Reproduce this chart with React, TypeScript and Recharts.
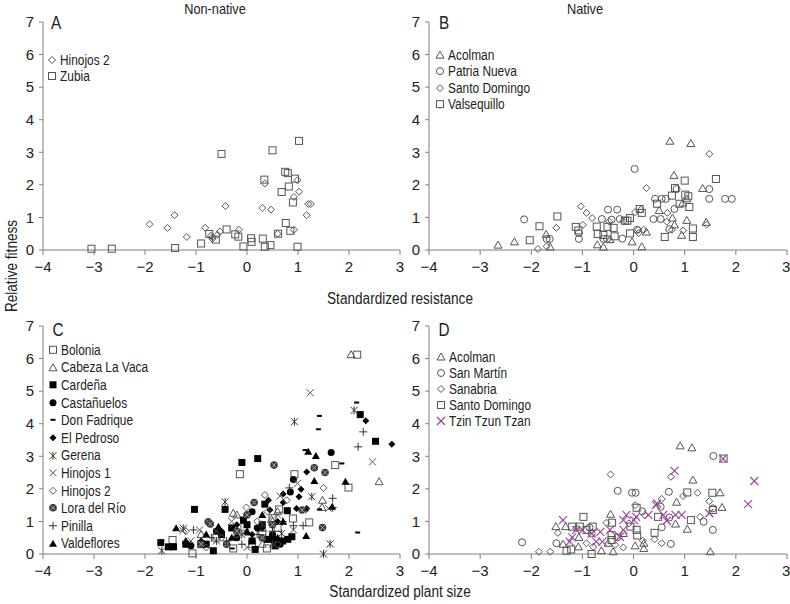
import { ScatterChart, Scatter, XAxis, YAxis } from "recharts";

type Pt = [number, number];
type Kind =
  | "sqO" | "triO" | "cirO" | "diaO"
  | "sqF" | "triF" | "cirF" | "diaF"
  | "dash" | "star" | "cross" | "plus" | "hatch" | "crossP";

// ---- axes
const xTicks = [-4, -3, -2, -1, 0, 1, 2, 3];
const yTicks = [0, 1, 2, 3, 4, 5, 6, 7];

// ---- A: non-native, resistance
const aHinojos2: Pt[] = [
  [-1.91, 0.79], [-1.56, 0.68], [-1.42, 1.07], [-1.18, 0.4], [-0.82, 0.68],
  [-0.71, 0.44], [-0.68, 0.34], [-0.58, 0.47], [-0.53, 0.57], [-0.42, 1.35],
  [-0.16, 0.62], [0.3, 1.29], [0.35, 2.04], [0.47, 1.24], [0.6, 0.5],
  [0.92, 1.63], [0.92, 0.62], [0.99, 2.14], [1.02, 1.79], [1.17, 1.07],
  [1.2, 1.41], [1.25, 1.41], [-0.68, 0.4],
];
const aZubia: Pt[] = [
  [-3.05, 0.04], [-2.65, 0.04], [-1.41, 0.06], [-0.9, 0.2], [-0.74, 0.49],
  [-0.61, 0.32], [-0.5, 2.95], [-0.4, 0.63], [-0.23, 0.48], [-0.17, 0.41],
  [-0.07, 0.11], [0.08, 0.36], [0.09, 0.25], [0.31, 0.35], [0.34, 2.16],
  [0.35, 0.1], [0.46, 0.15], [0.5, 3.06], [0.61, 0.5], [0.68, 1.78],
  [0.75, 2.4], [0.8, 2.36], [0.76, 0.83], [0.82, 1.95], [0.85, 0.59],
  [0.9, 1.46], [0.94, 2.19], [0.99, 0.1], [1.02, 3.35],
];

// ---- B: native, resistance
const bAcolman: Pt[] = [
  [-2.65, 0.15], [-2.33, 0.25], [-1.71, 0.48], [-1.63, 0.09], [-0.71, 0.16],
  [-0.59, 0.09], [-0.46, 0.32], [-0.03, 0.25], [0.16, 0.1], [0.25, 0.55],
  [0.5, 1.21], [0.71, 3.34], [0.79, 2.29], [0.8, 0.77], [0.94, 0.45],
  [0.96, 1.44], [1.04, 0.91], [1.12, 3.27], [1.35, 1.89], [1.42, 0.85],
  [0.76, 0.98], [1.04, 1.57],
];
const bPatriaNueva: Pt[] = [
  [-2.14, 0.94], [-1.7, 0.34], [-1.64, 0.34], [-1.07, 0.34], [-1.07, 0.52],
  [-0.62, 0.95], [-0.5, 1.24], [-0.43, 0.93], [-0.32, 1.24], [-0.27, 0.95],
  [-0.22, 0.35], [0.02, 2.49], [0.07, 0.62], [0.39, 0.95], [0.42, 1.57],
  [0.53, 0.95], [0.55, 1.57], [0.63, 1.57], [0.7, 0.64], [0.8, 1.26],
  [0.84, 1.87], [1.48, 1.87], [1.48, 1.57], [1.79, 1.57], [1.92, 1.57],
  [-0.59, 0.34], [-0.52, 0.34],
];
const bSantoDomingo: Pt[] = [
  [-1.87, 0.03], [-1.7, 0.11], [-1.51, 0.68], [-1.03, 1.34], [-0.99, 0.77],
  [-0.92, 1.14], [-0.81, 0.98], [-0.48, 0.88], [-0.2, 0.88], [0.03, 1.16],
  [0.09, 0.62], [0.1, 0.52], [0.14, 1.24], [0.25, 1.9], [0.2, 0.62],
  [0.65, 0.87], [0.66, 1.14], [0.75, 0.62], [0.97, 0.6], [1.48, 2.95],
  [1.43, 0.78],
];
const bValsequillo: Pt[] = [
  [-2.03, 0.3], [-1.84, 0.73], [-1.49, 1.03], [-1.13, 0.71], [-1.08, 0.6],
  [-0.72, 0.72], [-0.7, 0.49], [-0.59, 0.46], [-0.51, 0.71], [-0.39, 0.68],
  [-0.37, 0.42], [-0.17, 0.9], [-0.12, 0.9], [-0.07, 0.51], [0.12, 1.26],
  [0.16, 1.14], [0.46, 1.42], [0.61, 0.4], [0.75, 1.67], [0.81, 1.9],
  [0.9, 1.42], [1.0, 2.13], [1.01, 1.7], [1.07, 1.65], [1.09, 1.32],
  [1.16, 0.66], [1.16, 0.4], [1.61, 2.18], [-0.07, 0.98],
];

// ---- C: non-native, plant size
const cBolonia: Pt[] = [
  [2.16, 6.12], [-0.14, 2.45], [0.93, 2.45], [1.73, 2.73], [1.99, 2.04],
  [1.22, 0.97], [0.9, 1.09], [0.63, 1.37], [0.5, 1.1], [-1.07, 0.02],
  [-1.46, 0.43], [-0.27, 0.17], [0.39, 0.17], [-0.05, 0.84], [-0.6, 0.5],
  [0.1, 0.3], [-0.9, 0.3], [0.3, 0.6], [0.6, 0.8],
];
const cCabeza: Pt[] = [
  [2.04, 6.12], [2.59, 2.22], [1.48, 1.65], [1.47, 1.43], [0.48, 1.06],
  [-0.27, 1.25], [-0.2, 1.2], [0.5, 1.0], [0.3, 0.8], [-0.9, 0.6],
  [0.6, 1.3], [0.3, 0.3],
];
const cCardena: Pt[] = [
  [-0.1, 2.81], [0.21, 2.93], [-1.03, 1.37], [-1.69, 0.35], [-1.54, 0.22],
  [-1.44, 0.22], [-0.43, 1.37], [0.35, 1.53], [0.79, 1.33], [0.88, 0.53],
  [2.22, 4.28], [2.52, 3.46], [-0.66, 0.1], [0.16, 0.14], [-0.07, 1.04],
  [0.6, 0.4], [0.7, 0.4], [0.8, 0.45], [0.5, 0.45], [0.4, 0.45],
  [0.1, 0.4], [-0.3, 0.8], [-0.5, 0.6], [-0.8, 0.3], [-1.2, 0.3],
  [0.0, 0.9], [0.3, 0.9], [0.55, 0.25],
];
const cCastanuelos: Pt[] = [
  [1.65, 3.12], [0.91, 2.29], [-0.6, 0.7], [0.2, 0.8], [0.5, 0.6],
  [-0.2, 0.5], [0.65, 0.3], [-1.1, 0.25], [0.1, 1.3], [0.85, 1.9],
];
const cDonFadrique: Pt[] = [
  [2.15, 4.65], [1.42, 4.24], [1.4, 3.83], [1.14, 3.19], [1.86, 2.78],
  [2.17, 0.66], [1.42, 1.37], [-0.29, 0.17], [0.0, 0.6],
];
const cElPedroso: Pt[] = [
  [2.33, 4.09], [2.84, 3.37], [1.17, 2.52], [1.06, 1.99], [1.02, 1.76],
  [0.71, 1.84], [0.71, 1.58], [0.45, 1.35], [0.42, 1.65], [0.97, 1.4],
  [1.17, 1.4], [-0.5, 0.7], [0.1, 0.6], [-0.2, 0.9], [0.3, 0.8],
  [0.6, 1.0], [-0.9, 0.4],
];
const cGerena: Pt[] = [
  [2.1, 4.41], [0.93, 4.06], [1.27, 1.76], [1.5, 0.0], [1.63, 0.31],
  [-0.43, 1.6], [-1.67, 0.1], [-1.25, 0.79], [0.68, 0.63], [-0.1, 0.6],
  [0.3, 0.9], [-0.6, 0.4], [0.5, 0.3],
];
const cHinojos1: Pt[] = [
  [1.24, 4.95], [2.46, 2.83], [0.99, 2.17], [-1.26, 0.72], [-0.93, 0.74],
  [0.65, 1.78], [0.91, 0.74], [-0.3, 1.0], [0.3, 0.5], [-0.6, 0.7],
  [0.0, 0.2], [0.6, 1.2], [-1.1, 0.4], [1.6, 1.4],
];
const cHinojos2: Pt[] = [
  [1.5, 2.03], [0.35, 1.81], [-0.01, 1.43], [0.78, 1.65], [-1.2, 0.7],
  [-0.5, 0.5], [0.2, 1.0], [0.4, 1.3], [-0.2, 0.6], [0.6, 0.3],
  [-0.8, 0.2], [1.15, 1.35],
];
const cLora: Pt[] = [
  [0.53, 2.73], [1.32, 2.65], [1.53, 2.5], [1.48, 0.81], [1.08, 1.35],
  [0.14, 1.58], [-0.76, 0.99], [-0.72, 0.92], [-0.4, 0.3], [0.0, 1.2],
  [-0.9, 0.3], [0.3, 0.5], [-0.2, 0.7], [0.5, 0.9],
];
const cPinilla: Pt[] = [
  [2.28, 3.75], [2.18, 3.29], [1.68, 1.71], [1.68, 1.43], [0.83, 2.03],
  [1.1, 0.87], [0.91, 0.87], [-1.05, 0.74], [-0.4, 0.4], [0.2, 0.6],
  [0.5, 0.7], [-0.1, 0.3], [-0.7, 0.5], [0.7, 1.0],
];
const cValdeflores: Pt[] = [
  [1.2, 3.14], [1.35, 3.01], [1.32, 2.24], [1.93, 2.22], [1.67, 1.45],
  [1.16, 0.55], [0.71, 0.99], [-1.39, 0.79], [-0.56, 0.84], [-1.2, 0.4],
  [-0.8, 0.6], [0.0, 0.7], [0.3, 1.2], [-0.3, 0.5], [0.6, 0.5],
];

// ---- D: native, plant size
const dAcolman: Pt[] = [
  [0.91, 3.32], [1.14, 3.26], [1.16, 2.27], [0.84, 1.59], [0.82, 0.92],
  [1.05, 0.76], [1.69, 1.88], [1.73, 1.43], [1.5, 0.07], [-0.45, 1.22],
  [-0.4, 0.07], [-1.52, 0.84], [-1.33, 0.84], [-1.38, 0.3], [-1.07, 0.51],
  [-1.08, 0.22], [0.03, 0.25], [0.2, 0.17], [0.2, 0.33], [-0.5, 0.33],
  [-0.63, 0.1], [-0.2, 0.63],
];
const dSanMartin: Pt[] = [
  [-2.18, 0.36], [-1.51, 0.33], [-0.31, 1.94], [-0.03, 1.88], [0.04, 1.88],
  [0.17, 1.31], [0.69, 1.91], [0.53, 1.45], [0.7, 1.12], [0.73, 0.31],
  [1.56, 3.01], [1.55, 0.74], [1.37, 0.99], [1.55, 1.4], [0.55, 0.82],
  [-0.32, 0.51], [-0.82, 0.63], [-0.86, 0.81],
];
const dSanabria: Pt[] = [
  [-1.85, 0.07], [-1.63, 0.07], [-1.48, 0.65], [-0.45, 2.44], [-0.53, 0.96],
  [-0.2, 0.2], [-0.36, 0.28], [0.03, 1.5], [0.22, 1.19], [0.18, 0.41],
  [0.41, 0.45], [0.55, 1.69], [0.55, 0.33], [0.73, 2.37], [0.97, 1.78],
  [1.25, 1.88], [1.3, 1.14], [1.48, 1.62], [-0.09, 0.94], [-0.92, 0.33],
  [-0.79, 0.22], [-1.12, 0.79],
];
const dSantoDomingo: Pt[] = [
  [1.76, 2.93], [1.05, 1.89], [1.54, 1.88], [1.55, 1.35], [1.12, 1.04],
  [0.41, 0.65], [0.48, 1.14], [0.06, 1.42], [0.06, 0.74], [0.07, 0.57],
  [-0.06, 0.84], [-0.42, 0.96], [-0.43, 0.58], [-0.43, 0.43], [-0.8, 0.84],
  [-0.82, 0.0], [-0.98, 1.14], [-1.05, 0.84], [-1.2, 0.84], [-0.92, 0.74],
  [-1.31, 0.1], [-1.22, 0.14],
];
const dTzin: Pt[] = [
  [-1.38, 1.04], [-1.25, 0.38], [-1.2, 0.51], [-1.12, 0.74], [-1.0, 0.74],
  [-0.82, 0.63], [-0.73, 0.38], [-0.65, 0.68], [-0.61, 0.38], [-0.46, 0.74],
  [-0.2, 0.74], [-0.14, 1.2], [-0.2, 1.04], [0.01, 1.04], [0.05, 1.14],
  [0.29, 1.2], [0.46, 1.55], [0.58, 1.2], [0.65, 1.02], [0.8, 2.55],
  [0.82, 1.2], [0.94, 1.2], [1.48, 1.25], [1.75, 2.93], [2.24, 1.53],
  [2.36, 2.24], [0.44, 1.5], [-0.27, 0.53],
];

type Series = { name: string; kind: Kind; pts: Pt[] };

const panelA: Series[] = [
  { name: "Hinojos 2", kind: "diaO", pts: aHinojos2 },
  { name: "Zubia", kind: "sqO", pts: aZubia },
];
const panelB: Series[] = [
  { name: "Acolman", kind: "triO", pts: bAcolman },
  { name: "Patria Nueva", kind: "cirO", pts: bPatriaNueva },
  { name: "Santo Domingo", kind: "diaO", pts: bSantoDomingo },
  { name: "Valsequillo", kind: "sqO", pts: bValsequillo },
];
const panelC: Series[] = [
  { name: "Bolonia", kind: "sqO", pts: cBolonia },
  { name: "Cabeza La Vaca", kind: "triO", pts: cCabeza },
  { name: "Cardeña", kind: "sqF", pts: cCardena },
  { name: "Castañuelos", kind: "cirF", pts: cCastanuelos },
  { name: "Don Fadrique", kind: "dash", pts: cDonFadrique },
  { name: "El Pedroso", kind: "diaF", pts: cElPedroso },
  { name: "Gerena", kind: "star", pts: cGerena },
  { name: "Hinojos 1", kind: "cross", pts: cHinojos1 },
  { name: "Hinojos 2", kind: "diaO", pts: cHinojos2 },
  { name: "Lora del Río", kind: "hatch", pts: cLora },
  { name: "Pinilla", kind: "plus", pts: cPinilla },
  { name: "Valdeflores", kind: "triF", pts: cValdeflores },
];
const panelD: Series[] = [
  { name: "Acolman", kind: "triO", pts: dAcolman },
  { name: "San Martín", kind: "cirO", pts: dSanMartin },
  { name: "Sanabria", kind: "diaO", pts: dSanabria },
  { name: "Santo Domingo", kind: "sqO", pts: dSantoDomingo },
  { name: "Tzin Tzun Tzan", kind: "crossP", pts: dTzin },
];

const FONT = "'Liberation Sans Narrow', 'Arial Narrow', 'Liberation Sans', Arial, sans-serif";
const GRAY = "#555";
const AXIS = "#808080";
const PURPLE = "#9a4a9a";
const SQUEEZE = 0.85; // no narrow font installed, so texts get squeezed a bit

function marker(kind: Kind, cx: number, cy: number) {
  const r = 3.5;
  switch (kind) {
    case "sqO":
      return <rect x={cx - r} y={cy - r} width={2 * r} height={2 * r} fill="none" stroke={GRAY} strokeWidth={1} />;
    case "sqF":
      return <rect x={cx - 3.5} y={cy - 3.5} width={7} height={7} fill="#000" />;
    case "triO":
      return <polygon points={`${cx},${cy - 4} ${cx + 4},${cy + 3} ${cx - 4},${cy + 3}`} fill="none" stroke={GRAY} strokeWidth={1} />;
    case "triF":
      return <polygon points={`${cx},${cy - 4} ${cx + 4},${cy + 3} ${cx - 4},${cy + 3}`} fill="#000" />;
    case "cirO":
      return <circle cx={cx} cy={cy} r={r} fill="none" stroke={GRAY} strokeWidth={1} />;
    case "cirF":
      return <circle cx={cx} cy={cy} r={r} fill="#000" />;
    case "diaO":
      return <polygon points={`${cx},${cy - 3.5} ${cx + 3.5},${cy} ${cx},${cy + 3.5} ${cx - 3.5},${cy}`} fill="none" stroke={GRAY} strokeWidth={1} />;
    case "diaF":
      return <polygon points={`${cx},${cy - 3.5} ${cx + 3.5},${cy} ${cx},${cy + 3.5} ${cx - 3.5},${cy}`} fill="#000" />;
    case "dash":
      return <line x1={cx - 2.5} y1={cy} x2={cx + 2.5} y2={cy} stroke="#000" strokeWidth={2} />;
    case "star":
      return (
        <g stroke="#333" strokeWidth={1}>
          <line x1={cx - 3.5} y1={cy - 3.5} x2={cx + 3.5} y2={cy + 3.5} />
          <line x1={cx - 3.5} y1={cy + 3.5} x2={cx + 3.5} y2={cy - 3.5} />
          <line x1={cx} y1={cy - 4} x2={cx} y2={cy + 4} />
        </g>
      );
    case "cross":
      return (
        <g stroke={GRAY} strokeWidth={1}>
          <line x1={cx - 3.5} y1={cy - 3.5} x2={cx + 3.5} y2={cy + 3.5} />
          <line x1={cx - 3.5} y1={cy + 3.5} x2={cx + 3.5} y2={cy - 3.5} />
        </g>
      );
    case "crossP":
      return (
        <g stroke={PURPLE} strokeWidth={1.2}>
          <line x1={cx - 4} y1={cy - 4} x2={cx + 4} y2={cy + 4} />
          <line x1={cx - 4} y1={cy + 4} x2={cx + 4} y2={cy - 4} />
        </g>
      );
    case "plus":
      return (
        <g stroke="#333" strokeWidth={1}>
          <line x1={cx - 4} y1={cy} x2={cx + 4} y2={cy} />
          <line x1={cx} y1={cy - 4} x2={cx} y2={cy + 4} />
        </g>
      );
    case "hatch":
      return (
        <g>
          <circle cx={cx} cy={cy} r={3.8} fill="#3a3a3a" />
          <g stroke="#bbb" strokeWidth={0.8}>
            <line x1={cx - 2.4} y1={cy - 2.4} x2={cx + 2.4} y2={cy + 2.4} />
            <line x1={cx - 2.4} y1={cy + 2.4} x2={cx + 2.4} y2={cy - 2.4} />
          </g>
        </g>
      );
  }
}

const fmt = (v: number) => (v < 0 ? `\u2212${-v}` : `${v}`);

function Panel({ left, top, width, rightMargin, series }: { left: number; top: number; width: number; rightMargin: number; series: Series[] }) {
  return (
    <div style={{ position: "absolute", left, top }}>
      <ScatterChart width={width} height={290} margin={{ top: 22, right: rightMargin, left: 0, bottom: 10 }}>
        <XAxis
          type="number"
          dataKey="x"
          domain={[-4, 3]}
          ticks={xTicks}
          height={30}
          tickFormatter={fmt}
          tickSize={5}
          tickMargin={6}
          stroke={AXIS}
          tick={{ fill: "#222", fontSize: 15, fontFamily: FONT }}
        />
        <YAxis
          type="number"
          dataKey="y"
          domain={[0, 7]}
          ticks={yTicks}
          width={43}
          tickSize={4}
          tickMargin={5}
          stroke={AXIS}
          tick={{ fill: "#222", fontSize: 15, fontFamily: FONT }}
        />
        {series.map((s) => (
          <Scatter
            key={s.name}
            name={s.name}
            data={s.pts.map(([x, y]) => ({ x, y }))}
            isAnimationActive={false}
            shape={(p: any) => marker(s.kind, p.cx, p.cy)}
          />
        ))}
      </ScatterChart>
    </div>
  );
}

function LegendBox({ left, top, rowH, series }: { left: number; top: number; rowH: number; series: Series[] }) {
  return (
    <div style={{ position: "absolute", left, top, fontFamily: FONT, fontSize: 14, color: "#222" }}>
      {series.map((s) => (
        <div key={s.name} style={{ height: rowH, display: "flex", alignItems: "center", whiteSpace: "nowrap" }}>
          <svg width={11} height={rowH} style={{ marginRight: 2, flex: "none" }}>
            {marker(s.kind, 5, rowH / 2)}
          </svg>
          <span style={{ display: "inline-block", transform: `scaleX(${SQUEEZE})`, transformOrigin: "left center" }}>{s.name}</span>
        </div>
      ))}
    </div>
  );
}

const txt = (s: string, x: number, y: number, size: number, rotate = 0) => (
  <div
    style={{
      position: "absolute",
      left: x,
      top: y,
      transform: `translate(-50%, -50%) rotate(${rotate}deg) scaleX(${SQUEEZE})`,
      fontFamily: FONT,
      fontSize: size,
      color: "#222",
      whiteSpace: "nowrap",
      lineHeight: 1,
    }}
  >
    {s}
  </div>
);

export default function App() {
  return (
    <div style={{ position: "fixed", left: 0, top: 0, width: 790, height: 604, background: "#fff", overflow: "hidden" }}>
      <Panel left={0} top={0} width={420} rightMargin={20} series={panelA} />
      <Panel left={386} top={0} width={404} rightMargin={3} series={panelB} />
      <Panel left={0} top={304} width={420} rightMargin={20} series={panelC} />
      <Panel left={386} top={304} width={404} rightMargin={3} series={panelD} />

      <LegendBox left={47} top={52} rowH={16} series={panelA} />
      <LegendBox left={435} top={47} rowH={16.3} series={panelB} />
      <LegendBox left={48} top={341} rowH={17.6} series={panelC} />
      <LegendBox left={436} top={349} rowH={16} series={panelD} />

      {txt("A", 56, 23, 18)}
      {txt("B", 444, 23, 18)}
      {txt("C", 58, 330, 18)}
      {txt("D", 444, 330, 18)}

      {txt("Non-native", 215, 8, 15)}
      {txt("Native", 585, 8, 15)}
      {txt("Standardized resistance", 400, 299, 16)}
      {txt("Standardized plant size", 400, 592, 16)}
      {txt("Relative fitness", 12, 266, 16, -90)}
    </div>
  );
}
